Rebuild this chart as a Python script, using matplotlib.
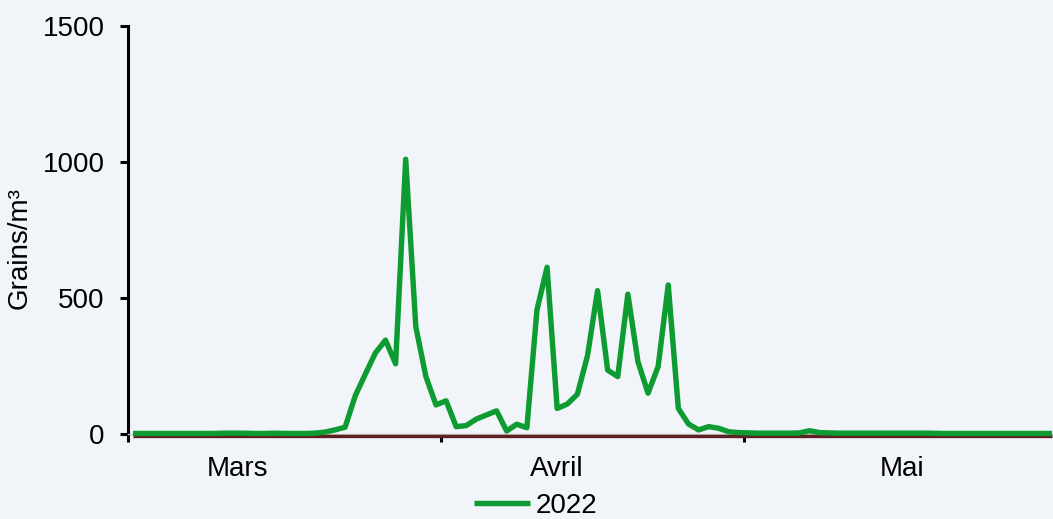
import matplotlib
matplotlib.use("Agg")
import matplotlib.pyplot as plt
import matplotlib.transforms as mtransforms
import numpy as np

# Daily pollen counts, 1 March – 31 May (day index 0..91)
values_2022 = [
    # Mars (31)
    2, 2, 2, 2, 2, 2, 2, 2, 2, 3,
    3, 3, 2, 2, 3, 2, 2, 2, 3, 7,
    15, 25, 140, 220, 298, 345, 258, 1010, 395, 211,
    107,
    # Avril (30)
    122, 27, 31, 55, 70, 85, 11, 36, 23, 456,
    613, 94, 110, 146, 287, 527, 235, 211, 514, 266,
    150, 248, 548, 94, 37, 15, 27, 21, 8, 5,
    # Mai (31)
    4, 3, 3, 3, 3, 4, 12, 5, 4, 3,
    3, 3, 3, 3, 3, 3, 3, 3, 3, 2,
    2, 2, 2, 2, 2, 2, 2, 2, 2, 2,
    2,
]
values_baseline = [0] * 92
series_label = "2022"
month_labels = ["Mars", "Avril", "Mai"]
month_label_pos = [10.3, 42.0, 76.2]
month_bounds = [-0.5, 30.5, 60.5, 91.5]
yticks = [0, 500, 1000, 1500]

days = np.arange(len(values_2022))

bg = "#F1F4F9"
green = "#0D9B32"
darkred = "#5E2121"

plt.rcParams['font.family'] = ['Liberation Sans', 'DejaVu Sans']

fig = plt.figure(figsize=(10.53, 5.19), dpi=100, facecolor=bg)
ax = fig.add_axes([128 / 1053, 85 / 519, 929 / 1053, 408 / 519], facecolor=bg)

# baseline series drawn a hair below the zero line, as in the reference
off = mtransforms.ScaledTranslation(0, -2 / 100, fig.dpi_scale_trans)
ax.plot(days, values_baseline, color=darkred, lw=2.4, solid_capstyle='butt',
        zorder=2.6, clip_on=False, transform=ax.transData + off)
ax.plot(days, values_2022, color=green, lw=3.9, solid_joinstyle='round',
        solid_capstyle='butt', zorder=3, clip_on=False, label=series_label)

ax.set_xlim(-0.5, 91.5)
ax.set_ylim(0, 1500)

for s in ['top', 'right']:
    ax.spines[s].set_visible(False)
ax.spines['left'].set_color('black')
ax.spines['left'].set_linewidth(2.2)
ax.spines['left'].set_bounds(-5, 1500)
ax.spines['bottom'].set_color('#C0C0C0')
ax.spines['bottom'].set_linewidth(1.0)
ax.spines['bottom'].set_zorder(2.5)

ax.set_yticks(yticks)
ax.set_yticklabels([str(v) for v in yticks])
ax.tick_params(axis='y', direction='out', length=6, width=2.2, color='black',
               labelsize=20, pad=11)

ax.set_xticks(month_bounds)
ax.set_xticklabels([])
ax.tick_params(axis='x', which='major', direction='out', length=5.5, width=2.2,
               color='black', pad=0)
ax.set_xticks(month_label_pos, minor=True)
ax.set_xticklabels(month_labels, minor=True)
ax.tick_params(axis='x', which='minor', length=0, labelsize=20, pad=16)

ax.set_ylabel("Grains/m³", fontsize=20)
ax.yaxis.set_label_coords(-0.103, 0.456)

leg = fig.legend(handles=[ax.lines[1]], labels=[series_label], loc='center',
                 bbox_to_anchor=(0.5086, 0.026), frameon=False, fontsize=20,
                 handlelength=2.0, handletextpad=0.2, borderpad=0)

fig.savefig("out.png", dpi=100, facecolor=bg)
